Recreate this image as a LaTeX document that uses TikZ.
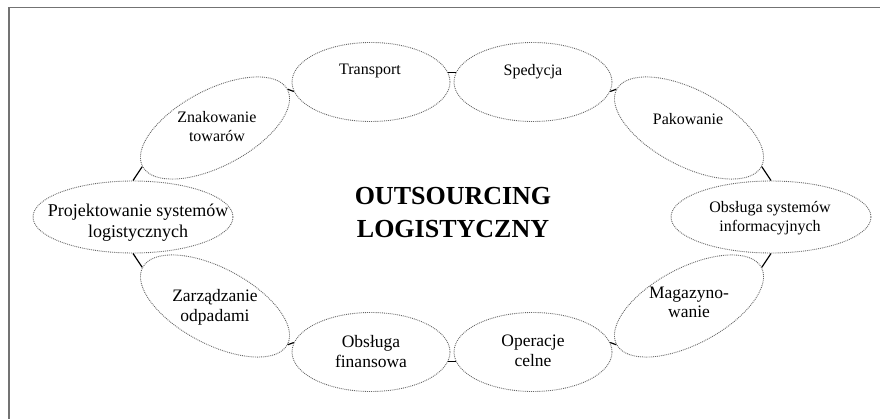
\documentclass[tikz,border=0pt]{standalone}
\usepackage{fontspec}
\setmainfont{Liberation Serif}
\usetikzlibrary{shapes.geometric}
\begin{document}
\begin{tikzpicture}[x=1pt,y=-1pt,
  bub/.style={ellipse, draw=black!60, densely dotted, line width=0.9pt, inner sep=0pt},
  hbub/.style={bub, minimum width=158pt, minimum height=79pt},
  wbub/.style={bub, minimum width=200pt, minimum height=72pt},
  tbub/.style={bub, minimum width=164pt, minimum height=76pt},
  lbl/.style={align=center, anchor=base, inner sep=0pt, font=\fontsize{16}{19.5}\selectfont},
  lblb/.style={lbl, font=\fontsize{17.5}{19.5}\selectfont},
  lblp/.style={lbl, font=\fontsize{18}{20.5}\selectfont},
  ttl/.style={align=center, anchor=base, inner sep=0pt, font=\fontsize{26}{33}\selectfont\bfseries},
  link/.style={draw=black, line width=1.2pt},
  edge/.style={draw=black!55, line width=1.3pt}]

\useasboundingbox (0,0) rectangle (880,419);

% partial page frame
\coordinate (fr1) at (880,7.5);
\coordinate (fr2) at (9,7.5);
\coordinate (fr3) at (9,419);
\draw[edge] (fr1) -- (fr2) -- (fr3);

% service ellipses
\node[hbub] (tr) at (371,82) {};
\node[hbub] (sp) at (533,82) {};
\node[hbub] (fi) at (371,352) {};
\node[hbub] (oc) at (533,352) {};
\node[wbub] (pr) at (133,217) {};
\node[wbub] (os) at (771,217) {};
\node[tbub, rotate=28] (zn) at (215,128) {};
\node[tbub, rotate=-28] (pa) at (689,128) {};
\node[tbub, rotate=-28] (za) at (215,306) {};
\node[tbub, rotate=28] (ma) at (689,306) {};

% links between neighbouring ellipses
\draw[link] (tr.7) -- (sp.173);
\draw[link] (sp.-7) -- (pa.west);
\draw[link] (zn.east) -- (tr.187);
\draw[link] (zn.west) -- (pr.north);
\draw[link] (pr.south) -- (za.west);
\draw[link] (za.east) -- (fi.173);
\draw[link] (fi.-7) -- (oc.187);
\draw[link] (oc.7) -- (ma.west);
\draw[link] (ma.east) -- (os.south);
\draw[link] (pa.east) -- (os.north);

% labels (base anchor sits on the last line)
\node[lbl] (trT) at (370,75) {Transport};
\node[lbl] (spT) at (533,76) {Spedycja};
\node[lbl] (paT) at (688,125) {Pakowanie};
\node[lbl] (znT) at (217,142) {Znakowanie\\towarów};
\node[lbl] (osT) at (770,232) {Obsługa systemów\\informacyjnych};
\node[lblp] (prT) at (138,237.5) {Projektowanie systemów\\logistycznych};
\node[lblb] (zaT) at (215,321) {Zarządzanie\\odpadami};
\node[lblb] (maT) at (689,318) {Magazyno-\\wanie};
\node[lblb] (fiT) at (371,367) {Obsługa\\finansowa};
\node[lblb] (ocT) at (533,366) {Operacje\\celne};

\node[ttl] (title) at (453,238) {OUTSOURCING\\LOGISTYCZNY};
\end{tikzpicture}
\end{document}
